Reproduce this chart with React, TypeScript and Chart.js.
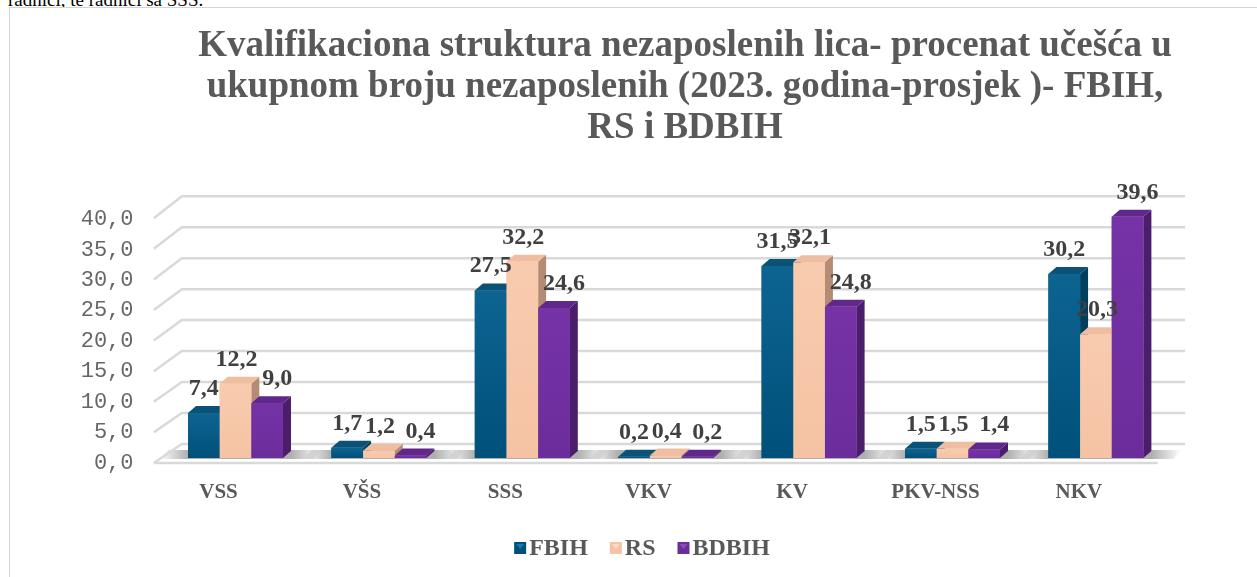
import React, { useEffect, useRef } from 'react';
import { Chart, registerables } from 'chart.js';

Chart.register(...registerables);

const categories = ['VSS', 'VŠS', 'SSS', 'VKV', 'KV', 'PKV-NSS', 'NKV'];
const fbihValues = [7.4, 1.7, 27.5, 0.2, 31.5, 1.5, 30.2];
const rsValues = [12.2, 1.2, 32.2, 0.4, 32.1, 1.5, 20.3];
const bdbihValues = [9.0, 0.4, 24.6, 0.2, 24.8, 1.4, 39.6];
const seriesNames = ['FBIH', 'RS', 'BDBIH'];
const titleLines = [
  'Kvalifikaciona struktura nezaposlenih lica- procenat učešća u',
  'ukupnom broju nezaposlenih (2023. godina-prosjek )- FBIH,',
  'RS i BDBIH',
];
const yMin = 0;
const yMax = 40;
const yStep = 5;
const aboveText = 'radnici, te radnici sa SSS.';

const frontTop = ['#0d6491', '#f9cbae', '#7533a6'];
const frontBottom = ['#00507a', '#f5c3a4', '#6c2d9c'];
const sideColors = ['#003f60', '#b48c76', '#4a1e6b'];
const topColors = ['#0a5277', '#efbd9f', '#5f288a'];
const legendTri = ['#1a77a8', '#fbd9c4', '#8a4bbd'];
const labelShift = [0, 1, 10];

const SERIF = '"Liberation Serif", "Times New Roman", serif';
const MONO = '"Liberation Mono", "Courier New", monospace';
const fmt = (v: number) => v.toFixed(1).replace('.', ',');

const DX = 8;
const DY = -7;

const threeD = {
  id: 'threeD',
  beforeDatasetsDraw(chart: any) {
    const { ctx, chartArea, scales } = chart;
    const { left, right } = chartArea;
    const y = scales.y;
    const y0 = y.getPixelForValue(yMin);
    const yT = y.getPixelForValue(yMax);
    ctx.save();
    // floor shadows
    const m0 = chart.getDatasetMeta(0);
    const m2 = chart.getDatasetMeta(2);
    categories.forEach((_, i) => {
      const b0 = m0.data[i].getProps(['x', 'width'], true);
      const b2 = m2.data[i].getProps(['x', 'width'], true);
      const gl = b0.x - b0.width / 2;
      const gr = b2.x + b2.width / 2 + DX;
      const g = ctx.createLinearGradient(gl - 28, 0, gr + 30, 0);
      const span = gr + 30 - (gl - 28);
      g.addColorStop(0, 'rgba(110,110,110,0)');
      g.addColorStop(28 / span, 'rgba(110,110,110,0.55)');
      g.addColorStop(1 - 30 / span, 'rgba(110,110,110,0.55)');
      g.addColorStop(1, 'rgba(110,110,110,0)');
      ctx.fillStyle = g;
      ctx.beginPath();
      ctx.moveTo(gl - 28, y0 + 1);
      ctx.lineTo(gr + 22, y0 + 1);
      ctx.lineTo(gr + 30, y0 - 8);
      ctx.lineTo(gl - 20, y0 - 8);
      ctx.closePath();
      ctx.fill();
    });
    // grid lines with perspective
    ctx.strokeStyle = '#d9d9d9';
    ctx.lineWidth = 2.5;
    y.ticks.forEach((t: any) => {
      const py = y.getPixelForValue(t.value);
      const frac = (y0 - py) / (y0 - yT);
      const fy = py + 5 - frac;
      const by = py - 14 - 4 * frac;
      ctx.beginPath();
      ctx.moveTo(left - 10, fy);
      ctx.lineTo(left + 18, by);
      ctx.lineTo(right + 17.5, by);
      ctx.stroke();
    });
    ctx.beginPath();
    ctx.moveTo(left - 10, y0 + 5);
    ctx.lineTo(right - 10, y0 + 5);
    ctx.stroke();
    ctx.restore();
  },
  afterDatasetsDraw(chart: any) {
    const { ctx } = chart;
    const metas = [0, 1, 2].map((d) => chart.getDatasetMeta(d));
    ctx.save();
    categories.forEach((_, i) => {
      metas.forEach((meta: any, d: number) => {
        const { x, y, base, width } = meta.data[i].getProps(['x', 'y', 'base', 'width'], true);
        const l = x - width / 2;
        const r = x + width / 2;
        ctx.fillStyle = sideColors[d];
        ctx.beginPath();
        ctx.moveTo(r, y);
        ctx.lineTo(r + DX, y + DY);
        ctx.lineTo(r + DX, base + DY);
        ctx.lineTo(r, base);
        ctx.closePath();
        ctx.fill();
        ctx.fillStyle = topColors[d];
        ctx.beginPath();
        ctx.moveTo(l, y);
        ctx.lineTo(l + DX, y + DY);
        ctx.lineTo(r + DX, y + DY);
        ctx.lineTo(r, y);
        ctx.closePath();
        ctx.fill();
        const g = ctx.createLinearGradient(0, y, 0, base);
        g.addColorStop(0, frontTop[d]);
        g.addColorStop(1, frontBottom[d]);
        ctx.fillStyle = g;
        ctx.fillRect(l, y, width, base - y);
      });
    });
    // data labels
    ctx.font = `bold 24px ${SERIF}`;
    ctx.fillStyle = '#404040';
    ctx.textAlign = 'center';
    ctx.textBaseline = 'alphabetic';
    metas.forEach((meta: any, d: number) => {
      const values = chart.data.datasets[d].data as number[];
      meta.data.forEach((bar: any, i: number) => {
        const { x, y } = bar.getProps(['x', 'y'], true);
        ctx.fillText(fmt(values[i]), x + labelShift[d], y - 18);
      });
    });
    ctx.restore();
  },
  afterDraw(chart: any) {
    const { ctx } = chart;
    ctx.save();
    ctx.font = `bold 24px ${SERIF}`;
    const box = 12;
    const gap = 3;
    const spacing = 22;
    const widths = chart.data.datasets.map((ds: any) => ctx.measureText(ds.label).width);
    const total = widths.reduce((a: number, w: number) => a + box + gap + w, 0) + spacing * (widths.length - 1);
    let x = chart.width / 2 - 43 - total / 2;
    const cy = 540;
    chart.data.datasets.forEach((ds: any, d: number) => {
      ctx.fillStyle = frontBottom[d];
      ctx.fillRect(x, cy - box / 2, box, box);
      ctx.fillStyle = legendTri[d];
      ctx.beginPath();
      ctx.moveTo(x + 2, cy - box / 2 + 2);
      ctx.lineTo(x + box - 2, cy - box / 2 + 2);
      ctx.lineTo(x + box / 2, cy + 1);
      ctx.closePath();
      ctx.fill();
      ctx.fillStyle = '#595959';
      ctx.textAlign = 'left';
      ctx.textBaseline = 'middle';
      ctx.fillText(ds.label, x + box + gap, cy + 1);
      x += box + gap + widths[d] + spacing;
    });
    ctx.restore();
  },
};

export default function App() {
  const ref = useRef<HTMLCanvasElement>(null);
  useEffect(() => {
    if (!ref.current) return;
    const chart = new Chart(ref.current, {
      type: 'bar',
      data: {
        labels: categories,
        datasets: [
          { label: seriesNames[0], data: fbihValues, backgroundColor: frontBottom[0] },
          { label: seriesNames[1], data: rsValues, backgroundColor: frontBottom[1] },
          { label: seriesNames[2], data: bdbihValues, backgroundColor: frontBottom[2] },
        ].map((ds) => ({ ...ds, barPercentage: 1, categoryPercentage: 0.6625, yAxisID: 'y' })),
      },
      options: {
        responsive: false,
        animation: false,
        layout: { padding: 0 },
        plugins: {
          legend: { display: false },
          tooltip: { enabled: false },
          title: {
            display: true,
            text: titleLines,
            color: '#595959',
            font: { family: SERIF, size: 37, weight: 'bold', lineHeight: 1.11 },
            padding: { top: 17.5, bottom: 65.5 },
          },
        },
        scales: {
          x: {
            grid: { display: false, drawTicks: false },
            border: { display: false },
            ticks: {
              color: '#595959',
              font: { family: SERIF, size: 21, weight: 'bold' },
              padding: 22,
              labelOffset: -17,
              maxRotation: 0,
              autoSkip: false,
            },
            afterFit: (s: any) => {
              s.height = 130;
            },
          },
          y: {
            min: yMin,
            max: yMax,
            grid: { display: false, drawTicks: false },
            border: { display: false },
            ticks: {
              stepSize: yStep,
              color: '#666666',
              font: { family: MONO, size: 22 },
              padding: 30.3,
              labelOffset: 5,
              callback: (v: any) => fmt(Number(v)),
            },
            afterFit: (s: any) => {
              s.width = 153.8;
            },
          },
          y2: {
            position: 'right',
            display: true,
            grid: { display: false, drawTicks: false },
            border: { display: false },
            ticks: { display: false },
            afterFit: (s: any) => {
              s.width = 192.4;
            },
          },
        },
      } as any,
      plugins: [threeD],
    });
    return () => chart.destroy();
  }, []);

  return (
    <div style={{ position: 'fixed', left: 0, top: 0, width: 1257, height: 577, overflow: 'hidden', background: '#fff' }}>
      <div
        style={{
          position: 'absolute',
          left: 8,
          top: -11,
          fontFamily: SERIF,
          fontSize: 19,
          whiteSpace: 'nowrap',
          color: '#000',
        }}
      >
        {aboveText}
      </div>
      <div
        style={{
          position: 'absolute',
          left: 9,
          top: 7,
          width: 1352,
          height: 600,
          border: '1px solid #d4d4d4',
          background: '#fff',
        }}
      >
        <canvas ref={ref} width={1350} height={580} style={{ position: 'absolute', left: 0, top: 0, width: 1350, height: 580 }} />
      </div>
    </div>
  );
}
